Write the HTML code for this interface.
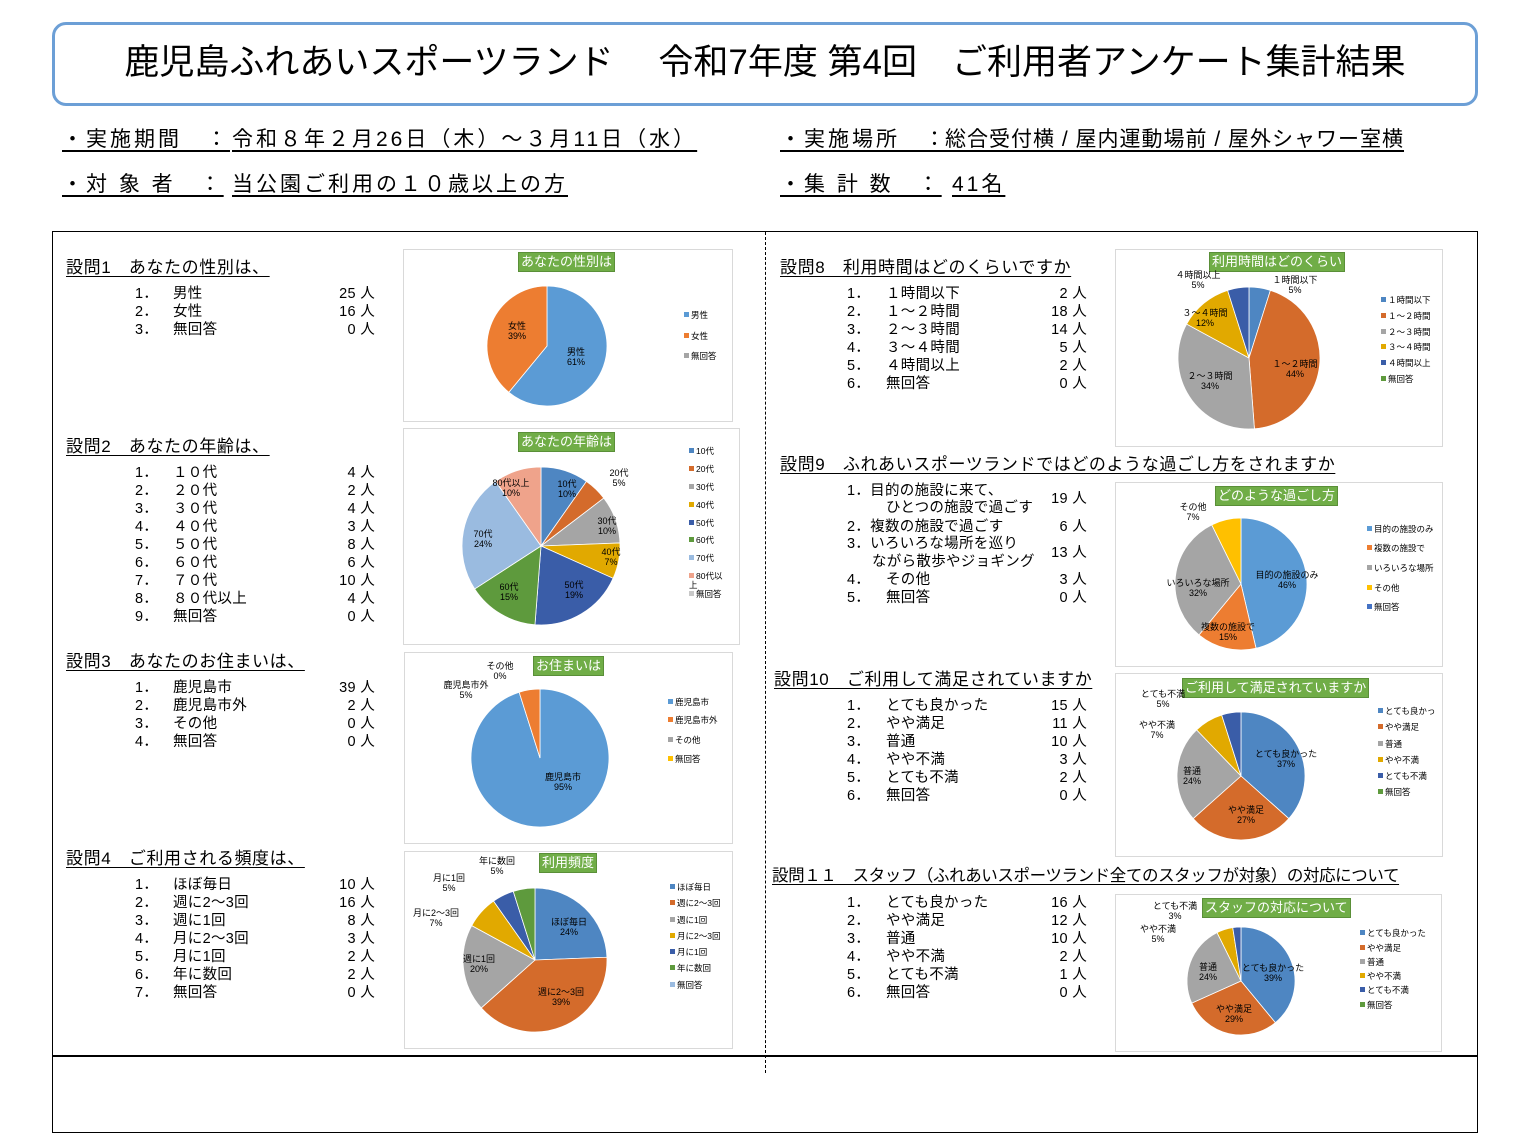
<!DOCTYPE html>
<html><head><meta charset="utf-8">
<style>
html,body{margin:0;padding:0;background:#fff}
body{width:1524px;height:1073px;position:relative;overflow:hidden;font-family:"Liberation Sans","Noto Sans CJK JP",sans-serif;color:#000}
.a{position:absolute;white-space:nowrap;line-height:1;z-index:3}
.t{font-size:14.5px;letter-spacing:0.3px}
.h{font-size:17px;letter-spacing:0.6px;text-decoration:underline;text-underline-offset:3px}
.info{font-size:21px;letter-spacing:3px;text-decoration:underline;text-underline-offset:4px}
.box{position:absolute;border:1px solid #d9d9d9;background:#fff;z-index:1}
.ct{position:absolute;background:#70AD47;color:#fff;font-size:13px;line-height:18px;padding:0 2px;border:1px solid #5a8f38;white-space:nowrap;z-index:3}
.lg{position:absolute;font-size:8.5px;white-space:nowrap;line-height:1;z-index:3}
.lg i{display:inline-block;width:5px;height:5px;margin-right:2px;vertical-align:1px}
.pl{position:absolute;font-size:9px;line-height:10px;text-align:center;white-space:nowrap;transform:translate(-50%,-50%);z-index:3}
</style></head><body>
<div style="position:absolute;left:52px;top:22px;width:1420px;height:78px;border:3px solid #6C9FD6;border-radius:14px"></div>
<div class="a" style="left:52px;top:45px;width:1426px;text-align:center;font-size:35px;letter-spacing:0px">鹿児島ふれあいスポーツランド　 令和7年度  第4回　ご利用者アンケート集計結果</div>

<div class="a info" style="left:62px;top:129px">・実施期間　：</div>
<div class="a info" style="left:232px;top:129px">令和８年２月26日（木）～３月11日（水）</div>
<div class="a info" style="left:62px;top:174px">・対 象 者　：</div>
<div class="a info" style="left:232px;top:174px">当公園ご利用の１０歳以上の方</div>
<div class="a info" style="left:780px;top:129px">・実施場所　：</div>
<div class="a info" style="left:945px;top:129px;letter-spacing:1px">総合受付横 / 屋内運動場前 / 屋外シャワー室横</div>
<div class="a info" style="left:780px;top:174px">・集 計 数　：</div>
<div class="a info" style="left:952px;top:174px">41名</div>

<div style="position:absolute;left:52px;top:231px;width:1424px;height:900px;border:1.5px solid #000"></div>
<div style="position:absolute;left:52px;top:1055px;width:1426px;height:0;border-top:2px solid #000"></div>
<div style="position:absolute;left:765px;top:232px;height:841px;border-left:1px dashed #000"></div>

<div id="root"></div>
<svg id="svg" width="1524" height="1073" style="position:absolute;left:0;top:0;z-index:2"></svg>

<script>
const R=document.getElementById('root');
function el(html){R.insertAdjacentHTML('beforeend',html);}
function txt(x,y,s,cls){el(`<div class="a ${cls||'t'}" style="left:${x}px;top:${y-8}px">${s}</div>`);}
function cnt(xr,y,s){el(`<div class="a t" style="left:${xr-60}px;width:60px;text-align:right;top:${y-8}px">${s}</div>`);}
function q(hx,hy,head,items,nx,lx,cr,hs){
  el(`<div class="a h" style="left:${hx}px;top:${hy-9}px;${hs||''}">${head}</div>`);
  items.forEach(it=>{txt(nx,it[0],it[1]);txt(lx,it[0],it[2]);if(it[3]!==undefined)cnt(cr,it[4]||it[0],it[3]);});
}
q(66,268,'設問1　あなたの性別は、',[[295,'1．','男性','25 人'],[313,'2．','女性','16 人'],[331,'3．','無回答','0 人']],135,173,375);
q(66,447,'設問2　あなたの年齢は、',[[474,'1．','１０代','4 人'],[492,'2．','２０代','2 人'],[510,'3．','３０代','4 人'],[528,'4．','４０代','3 人'],[546,'5．','５０代','8 人'],[564,'6．','６０代','6 人'],[582,'7．','７０代','10 人'],[600,'8．','８０代以上','4 人'],[618,'9．','無回答','0 人']],135,173,375);
q(66,662,'設問3　あなたのお住まいは、',[[689,'1．','鹿児島市','39 人'],[707,'2．','鹿児島市外','2 人'],[725,'3．','その他','0 人'],[743,'4．','無回答','0 人']],135,173,375);
q(66,859,'設問4　ご利用される頻度は、',[[886,'1．','ほぼ毎日','10 人'],[904,'2．','週に2～3回','16 人'],[922,'3．','週に1回','8 人'],[940,'4．','月に2～3回','3 人'],[958,'5．','月に1回','2 人'],[976,'6．','年に数回','2 人'],[994,'7．','無回答','0 人']],135,173,375);
q(780,268,'設問8　利用時間はどのくらいですか',[[295,'1．','１時間以下','2 人'],[313,'2．','１～２時間','18 人'],[331,'3．','２～３時間','14 人'],[349,'4．','３～４時間','5 人'],[367,'5．','４時間以上','2 人'],[385,'6．','無回答','0 人']],847,886,1087);
el(`<div class="a h" style="left:780px;top:456px">設問9　ふれあいスポーツランドではどのような過ごし方をされますか</div>`);
txt(847,492,'1．目的の施設に来て、');txt(886,509,'ひとつの施設で過ごす');cnt(1087,500,'19 人');
txt(847,528,'2．複数の施設で過ごす');cnt(1087,528,'6 人');
txt(847,545,'3．いろいろな場所を巡り');txt(872,563,'ながら散歩やジョギング');cnt(1087,554,'13 人');
txt(847,581,'4．');txt(886,581,'その他');cnt(1087,581,'3 人');
txt(847,599,'5．');txt(886,599,'無回答');cnt(1087,599,'0 人');
q(774,680,'設問10　ご利用して満足されていますか',[[707,'1．','とても良かった','15 人'],[725,'2．','やや満足','11 人'],[743,'3．','普通','10 人'],[761,'4．','やや不満','3 人'],[779,'5．','とても不満','2 人'],[797,'6．','無回答','0 人']],847,886,1087);
q(772,877,'設問１１　スタッフ（ふれあいスポーツランド全てのスタッフが対象）の対応について',[[904,'1．','とても良かった','16 人'],[922,'2．','やや満足','12 人'],[940,'3．','普通','10 人'],[958,'4．','やや不満','2 人'],[976,'5．','とても不満','1 人'],[994,'6．','無回答','0 人']],847,886,1087,'font-size:16.5px;letter-spacing:-0.4px');

const L=['#5B9BD5','#ED7D31','#A5A5A5','#FFC000','#4472C4','#70AD47'];
const D=['#4E86C2','#D46B2B','#A5A5A5','#E1A900','#3A5DA8','#5E9A3D','#9ABBE0','#EFA38B','#c8c8c8'];
const S=document.getElementById('svg');let svg='';
function pie(cx,cy,r,vals,cols){
  const tot=vals.reduce((a,b)=>a+b,0);let a=0;
  vals.forEach((v,i)=>{if(!v)return;const a1=a+v/tot*2*Math.PI;
    const x0=cx+r*Math.sin(a),y0=cy-r*Math.cos(a),x1=cx+r*Math.sin(a1),y1=cy-r*Math.cos(a1);
    svg+=`<path d="M${cx},${cy}L${x0},${y0}A${r},${r} 0 ${a1-a>Math.PI?1:0} 1 ${x1},${y1}Z" fill="${cols[i]}" stroke="#fff" stroke-width="0.8"/>`;a=a1;});
}
function chart(b,t,p,leg,labels){
  el(`<div class="box" style="left:${b[0]}px;top:${b[1]}px;width:${b[2]-b[0]}px;height:${b[3]-b[1]}px"></div>`);
  el(`<div class="ct" style="left:${t[0]}px;top:${t[1]}px">${t[2]}</div>`);
  pie(...p);
  leg[2].forEach((s,i)=>el(`<div class="lg" style="left:${leg[0]}px;top:${leg[1][i]-5}px"><i style="background:${p[4][i]}"></i>${s}</div>`));
  labels.forEach(l=>el(`<div class="pl" style="left:${l[1]}px;top:${l[2]}px">${l[0]}</div>`));
}
chart([403,249,731,420],[518,252,'あなたの性別は'],[547,346,60,[25,16],L],[684,[316,337,357],['男性','女性','無回答']],
 [['女性<br>39%',517,331],['男性<br>61%',576,357]]);
chart([403,428,738,643],[518,432,'あなたの年齢は'],[541,546,79,[4,2,4,3,8,6,10,4],D],[689,[452,470,488,506,524,541,559,577,595],['10代','20代','30代','40代','50代','60代','70代','80代以<br>上','無回答']],
 [['10代<br>10%',567,489],['20代<br>5%',619,478],['30代<br>10%',607,526],['40代<br>7%',611,557],['50代<br>19%',574,590],['60代<br>15%',509,592],['70代<br>24%',483,539],['80代以上<br>10%',511,488]]);
chart([404,652,731,842],[533,656,'お住まいは'],[540,758,69,[39,2],L],[668,[703,721,741,760],['鹿児島市','鹿児島市外<br>&nbsp;','その他','無回答']],
 [['その他<br>0%',500,671],['鹿児島市外<br>5%',466,690],['鹿児島市<br>95%',563,782]]);
chart([404,851,731,1047],[539,853,'利用頻度'],[535,960,72,[10,16,8,3,2,2],D],[670,[888,904,921,937,953,969,986],['ほぼ毎日','週に2～3回','週に1回','月に2～3回','月に1回','年に数回','無回答']],
 [['年に数回<br>5%',497,866],['月に1回<br>5%',449,883],['月に2～3回<br>7%',436,918],['ほぼ毎日<br>24%',569,927],['週に2～3回<br>39%',561,997],['週に1回<br>20%',479,964]]);
chart([1115,249,1441,445],[1209,252,'利用時間はどのくらい'],[1249,358,71,[2,18,14,5,2],D],[1381,[301,317,333,348,364,380],['１時間以下','１～２時間','２～３時間','３～４時間','４時間以上','無回答']],
 [['４時間以上<br>5%',1198,280],['１時間以下<br>5%',1295,285],['３～４時間<br>12%',1205,318],['１～２時間<br>44%',1295,369],['２～３時間<br>34%',1210,381]]);
chart([1115,482,1441,665],[1215,486,'どのような過ごし方'],[1241,584,66,[19,6,13,3],L],[1367,[530,549,569,589,608],['目的の施設のみ','複数の施設で','いろいろな場所','その他','無回答']],
 [['その他<br>7%',1193,512],['目的の施設のみ<br>46%',1287,580],['いろいろな場所<br>32%',1198,588],['複数の施設で<br>15%',1228,632]]);
chart([1115,673,1441,855],[1182,678,'ご利用して満足されていますか'],[1241,776,64,[15,11,10,3,2],D],[1378,[712,728,745,761,777,793],['とても良かっ','やや満足','普通','やや不満','とても不満','無回答']],
 [['とても不満<br>5%',1163,699],['やや不満<br>7%',1157,730],['とても良かった<br>37%',1286,759],['普通<br>24%',1192,776],['やや満足<br>27%',1246,815]]);
chart([1115,894,1440,1050],[1202,898,'スタッフの対応について'],[1241,981,54,[16,12,10,2,1],D],[1360,[934,949,963,977,991,1006],['とても良かった','やや満足','普通','やや不満','とても不満','無回答']],
 [['とても不満<br>3%',1175,911],['やや不満<br>5%',1158,934],['普通<br>24%',1208,972],['とても良かった<br>39%',1273,973],['やや満足<br>29%',1234,1014]]);
S.innerHTML=svg;
</script>
</body></html>
